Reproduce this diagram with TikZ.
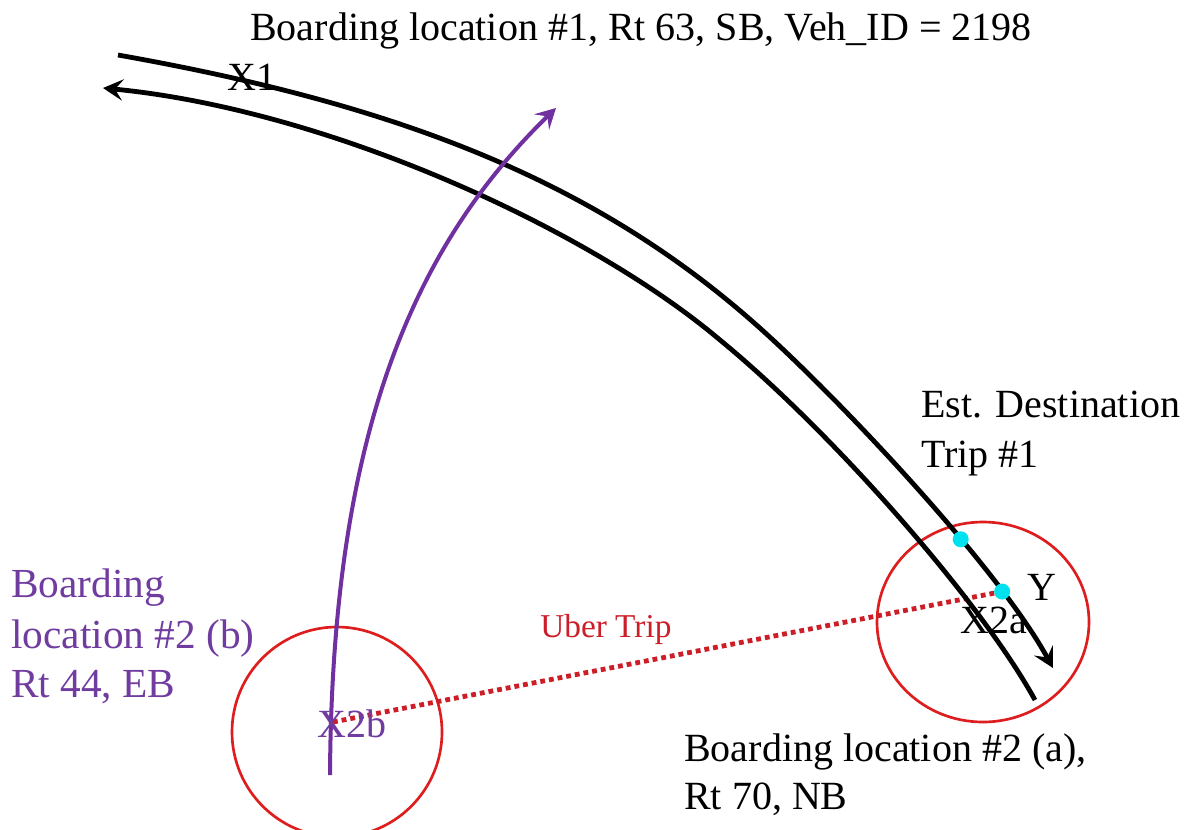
\documentclass[tikz,border=0pt]{standalone}
\usepackage{fontspec}
\setmainfont{Liberation Serif}
\usetikzlibrary{arrows.meta}
\definecolor{routepurple}{RGB}{112,48,160}
\definecolor{txtpurple}{RGB}{112,60,160}
\definecolor{circred}{RGB}{222,30,30}
\definecolor{uberred}{RGB}{205,30,40}
\definecolor{dotcyan}{RGB}{0,225,240}
\begin{document}
\begin{tikzpicture}[x=0.75pt,y=-0.75pt,
  lbl/.style={inner sep=0pt, anchor=base west, font=\fontsize{30}{36}\selectfont},
  road/.style={line width=3.6pt, black, -{Stealth[length=15pt,width=16pt,inset=6pt]}},
  busroute/.style={line width=3pt, routepurple, -{Stealth[length=15pt,width=16pt,inset=6pt]}},
  zone/.style={line width=2pt, circred},
  uber/.style={line width=3.6pt, uberred, dash pattern=on 3.6pt off 3pt},
  stopdot/.style={circle, fill=dotcyan, inner sep=0pt, minimum size=12pt}]
\clip (0,0) rectangle (1196,829);
\fill[white] (0,0) rectangle (1196,829);

% zones
\coordinate (cB) at (337,732);
\coordinate (cA) at (983,622);
\draw[zone] (cB) circle [radius=105];
\draw[zone] (cA) ellipse [x radius=106, y radius=100];

% stop positions along the southbound road
\path (773,340) .. controls (853,414) and (1000,571) .. (1053,668)
  node[pos=0.62, coordinate] (destc) {}
  node[pos=0.765, coordinate] (yc) {};
\coordinate (x2b) at (333,722);

% uber trip
\draw[uber] (x2b) -- (yc);

% roads
\draw[road] (118,55) .. controls (400,105) and (603,182) .. (773,340)
  .. controls (853,414) and (1000,571) .. (1053,668);
\draw[road] (1035,700) .. controls (980,600) and (830,430) .. (720,340)
  .. controls (590,230) and (330,110) .. (103,88);

% purple route
\coordinate (pstart) at (330,775);
\coordinate (pend) at (556,108);
\draw[busroute] (pstart) .. controls (332,440) and (410,250) .. (pend);

% cyan dots
\node[stopdot] (dest) at (destc) {};
\node[stopdot] (ydot) at (yc) {};

% labels
\node[lbl] (title) at (250,40) {Boarding location \#1, Rt 63, SB, Veh\_ID = 2198};
\node[lbl] (x1) at (227,90) {X1};
\node[lbl] (est1) at (921,417) {Est. Destination};
\node[lbl] (est2) at (921,467) {Trip \#1};
\node[lbl] (ylbl) at (1027,600) {Y};
\node[lbl] (x2a) at (960,633) {X2a};
\node[lbl, text=txtpurple] (x2blbl) at (317,737) {X2b};
\node[lbl] (ba1) at (684,761) {Boarding location \#2 (a),};
\node[lbl] (ba2) at (684,809) {Rt 70, NB};
\node[lbl, text=txtpurple, font=\fontsize{31}{36}\selectfont] (bb1) at (11,597) {Boarding};
\node[lbl, text=txtpurple, font=\fontsize{31}{36}\selectfont] (bb2) at (11,648) {location \#2 (b)};
\node[lbl, text=txtpurple, font=\fontsize{31}{36}\selectfont] (bb3) at (11,697) {Rt 44, EB};
\node[lbl, text=uberred, font=\fontsize{25}{30}\selectfont] (ubertxt) at (540,637) {Uber Trip};
\end{tikzpicture}
\end{document}
